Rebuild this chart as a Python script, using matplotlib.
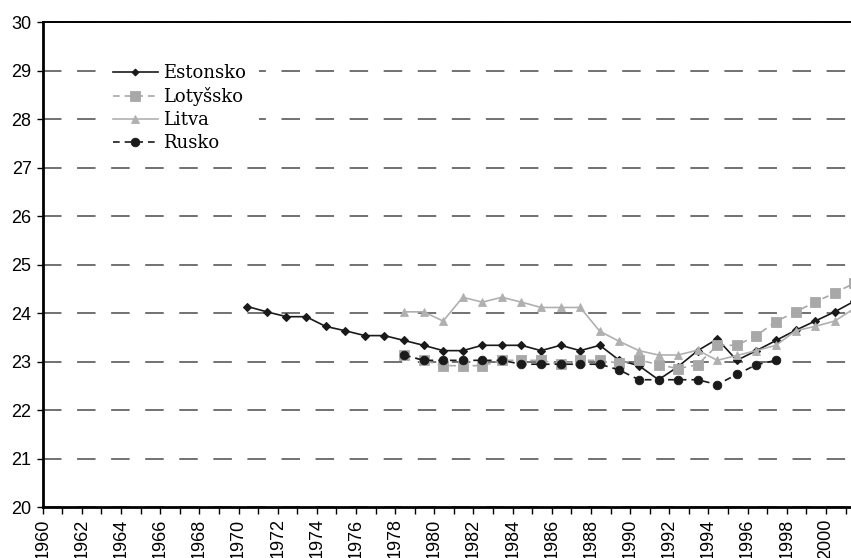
import matplotlib.pyplot as plt
import numpy as np

# average age data (values per year)
est_years = list(range(1970, 2002))
est_vals = [24.14, 24.03, 23.93, 23.93, 23.73, 23.64, 23.54, 23.54, 23.44, 23.34,
            23.23, 23.23, 23.34, 23.34, 23.34, 23.23, 23.34, 23.23, 23.34, 23.03,
            22.92, 22.63, 22.90, 23.23, 23.47, 23.03, 23.23, 23.44, 23.65, 23.84,
            24.03, 24.25]

lot_years = list(range(1978, 2002))
lot_vals = [23.14, 23.03, 22.92, 22.92, 22.92, 23.03, 23.03, 23.03, 22.95, 23.03,
            23.03, 22.97, 23.04, 22.94, 22.86, 22.94, 23.34, 23.34, 23.54, 23.83,
            24.03, 24.23, 24.42, 24.62]

lit_years = list(range(1978, 2002))
lit_vals = [24.03, 24.03, 23.84, 24.33, 24.23, 24.33, 24.23, 24.12, 24.12, 24.12,
            23.63, 23.42, 23.23, 23.14, 23.14, 23.24, 23.03, 23.13, 23.23, 23.34,
            23.64, 23.73, 23.84, 24.10]

rus_years = list(range(1978, 1998))
rus_vals = [23.14, 23.03, 23.03, 23.03, 23.03, 23.03, 22.95, 22.95, 22.95, 22.95,
            22.95, 22.83, 22.63, 22.63, 22.63, 22.63, 22.53, 22.74, 22.94, 23.03]

tick_years = list(range(1960, 2001, 2))
y_ticks = list(range(20, 31))

# points sit roughly in the middle of each year's slot
OFFSET = 0.45


def xs(years):
    return np.array(years) + OFFSET


fig = plt.figure(figsize=(8.51, 5.58), dpi=100)
ax = fig.add_axes([0.0502, 0.0909, 0.9498, 0.8691])

ax.grid(axis='y', color='#4a4a4a', linewidth=1.1, linestyle=(0, (12.1, 10.2)))
ax.set_axisbelow(True)

ax.plot(xs(est_years), est_vals, '-', color='#1a1a1a', lw=1.2,
        marker='D', ms=4.2, mew=0.8, mfc='#1a1a1a', mec='#1a1a1a',
        label='Estonsko', zorder=3)
ax.plot(xs(lot_years), lot_vals, '--', color='#a8a8a8', lw=1.2, dashes=(4, 3),
        marker='s', ms=6.6, mew=0.6, mfc='#a8a8a8', mec='#a8a8a8',
        label='Lotyšsko', zorder=3)
ax.plot(xs(lit_years), lit_vals, '-', color='#b0b0b0', lw=1.2,
        marker='^', ms=6.4, mew=0.6, mfc='#b0b0b0', mec='#b0b0b0',
        label='Litva', zorder=3)
ax.plot(xs(rus_years), rus_vals, '--', color='#1a1a1a', lw=1.2, dashes=(4, 3),
        marker='o', ms=6.2, mew=0.6, mfc='#1a1a1a', mec='#1a1a1a',
        label='Rusko', zorder=3)

ax.set_xlim(1960, 2001.28)
ax.set_ylim(20, 30)

ax.set_xticks(tick_years)
ax.set_xticks(range(1960, 2002), minor=True)
ax.set_xticklabels([str(y) for y in tick_years], rotation=90,
                   family='Liberation Sans', fontsize=13)
ax.set_yticks(y_ticks)
ax.set_yticklabels([str(y) for y in y_ticks], family='Liberation Sans', fontsize=13)
ax.tick_params(axis='x', which='both', length=5, width=1, pad=3, direction='out')
ax.tick_params(axis='y', length=4, width=1, pad=4, direction='out')

ax.spines['right'].set_visible(False)
ax.spines['left'].set_linewidth(2.0)
ax.spines['bottom'].set_linewidth(2.0)
ax.spines['top'].set_linewidth(1.4)

leg = ax.legend(loc='upper left', bbox_to_anchor=(0.0598, 0.958), numpoints=1,
                prop={'family': 'DejaVu Serif', 'size': 13}, frameon=True,
                facecolor='white', edgecolor='none', framealpha=1, fancybox=False,
                handlelength=2.5, handletextpad=0.3, labelspacing=0.27,
                borderpad=0.7)
leg.legend_handles[0].set_markersize(3.4)

fig.savefig('out.png', dpi=100)
